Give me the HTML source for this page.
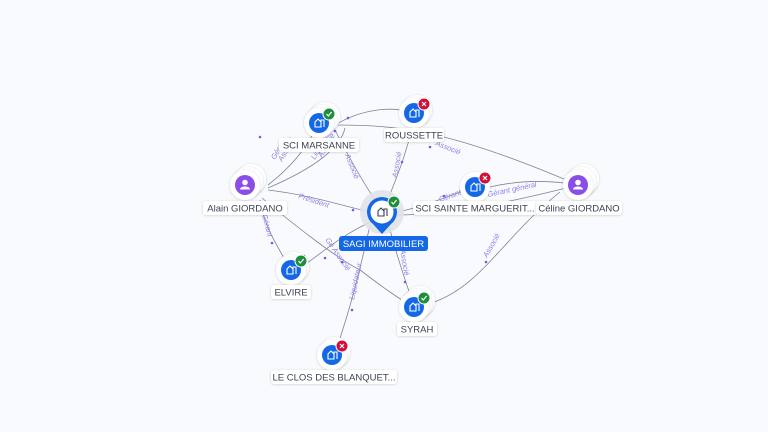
<!DOCTYPE html>
<html><head><meta charset="utf-8"><style>
html,body{margin:0;padding:0;background:#f8fafd;}
svg{display:block}
.lbl{font-family:"Liberation Sans",sans-serif;font-size:9.5px;fill:#3b4256;}
.el{font-family:"Liberation Sans",sans-serif;font-size:7.5px;fill:#8a84e6;font-style:italic}
.ln{fill:none;stroke:#7d8499;stroke-width:0.8}
</style></head><body>
<svg width="768" height="432" viewBox="0 0 768 432" xmlns="http://www.w3.org/2000/svg">
<defs>
<filter id="sh" x="-50%" y="-50%" width="200%" height="200%"><feDropShadow dx="0" dy="0.5" stdDeviation="1.2" flood-color="#000" flood-opacity="0.18"/></filter>
<g id="bld"><path d="M-4,4 V-1 L-1,-4 L2,-1 V4 Z M2,4 V-3 H5 V4" fill="none" stroke="#fff" stroke-width="1.1"/></g>
<g id="ok"><circle r="6" fill="#1e8e3e" stroke="#fff" stroke-width="1"/><path d="M-2.5,0 L-0.7,2 L2.6,-2" stroke="#fff" stroke-width="1.2" fill="none"/></g>
<g id="ko"><circle r="6" fill="#d0103a" stroke="#fff" stroke-width="1"/><path d="M-2,-2 L2,2 M2,-2 L-2,2" stroke="#fff" stroke-width="1.2"/></g>
</defs>

<!-- edges -->
<path class="ln" d="M268,185 C300,160 310,140 319,123"/>
<path class="ln" d="M268,188 C310,170 340,150 345,128"/>
<path class="ln" d="M268,190 C310,195 340,205 370,212"/>
<path class="ln" d="M260,200 C265,230 280,250 291,270"/>
<path class="ln" d="M262,198 C300,230 340,260 360,270 C380,285 400,300 414,307"/>
<path class="ln" d="M334,125 C400,125 450,130 578,185"/>
<path class="ln" d="M335,125 C360,110 390,105 414,113"/>
<path class="ln" d="M335,130 C350,160 365,185 378,205"/>
<path class="ln" d="M414,120 C405,160 395,180 388,200"/>
<path class="ln" d="M398,212 C430,205 450,195 475,187"/>
<path class="ln" d="M398,215 C450,215 520,200 578,185"/>
<path class="ln" d="M490,187 C520,180 550,180 578,185"/>
<path class="ln" d="M375,220 C340,235 320,255 300,268"/>
<path class="ln" d="M388,222 C395,250 405,280 412,300"/>
<path class="ln" d="M370,225 C360,270 350,310 336,350"/>
<path class="ln" d="M425,305 C480,290 500,240 560,192"/>

<!-- edge labels -->
<text class="el" transform="translate(275,160) rotate(-60)">Gérant</text>
<text class="el" transform="translate(282,162) rotate(-60)">Associé</text>
<text class="el" transform="translate(315,160) rotate(-60)">Liquidateur</text>
<text class="el" transform="translate(322,158) rotate(-60)">Associé</text>
<text class="el" transform="translate(298,198) rotate(18)">Président</text>
<text class="el" transform="translate(262,215) rotate(75)">Gérant</text>
<text class="el" transform="translate(325,240) rotate(55)">Gé Associé</text>
<text class="el" transform="translate(345,155) rotate(68)">Associé</text>
<text class="el" transform="translate(397,178) rotate(-80)">Associé</text>
<text class="el" transform="translate(435,145) rotate(22)">Associé</text>
<text class="el" transform="translate(440,202) rotate(-20)">Gérant</text>
<text class="el" transform="translate(488,197) rotate(-12)">Gérant général</text>
<text class="el" transform="translate(487,258) rotate(-60)">Associé</text>
<text class="el" transform="translate(400,250) rotate(80)">Associé</text>
<text class="el" transform="translate(354,300) rotate(-78)">Liquidateur</text>

<!-- arrowheads -->
<g fill="#6b5fe0">
<circle cx="335" cy="131" r="1.3"/><circle cx="348" cy="118" r="1.3"/><circle cx="353" cy="210" r="1.3"/><circle cx="272" cy="243" r="1.3"/>
<circle cx="325" cy="258" r="1.3"/><circle cx="342" cy="262" r="1.3"/><circle cx="402" cy="162" r="1.3"/><circle cx="430" cy="147" r="1.3"/>
<circle cx="444" cy="196" r="1.3"/><circle cx="486" cy="262" r="1.3"/><circle cx="405" cy="282" r="1.3"/><circle cx="352" cy="310" r="1.3"/>
<circle cx="260" cy="137" r="1.3"/><circle cx="304" cy="256" r="1.3"/>
</g>

<!-- company nodes -->
<g>
<!-- SCI MARSANNE -->
<g transform="translate(319,123)"><circle cx="6" cy="-6" r="15" fill="#fff" filter="url(#sh)"/><circle cx="3" cy="-3" r="15" fill="#fff" filter="url(#sh)"/><circle r="15" fill="#fff" filter="url(#sh)"/><circle r="10" fill="#1468e6"/><use href="#bld"/><use href="#ok" x="10" y="-9"/></g>
<!-- ROUSSETTE -->
<g transform="translate(414,113)"><circle cx="3" cy="-3" r="15" fill="#fff" filter="url(#sh)"/><circle r="15" fill="#fff" filter="url(#sh)"/><circle r="10" fill="#1468e6"/><use href="#bld"/><use href="#ko" x="10" y="-9"/></g>
<!-- SCI SAINTE -->
<g transform="translate(475,187)"><circle r="15" fill="#fff" filter="url(#sh)"/><circle r="10" fill="#1468e6"/><use href="#bld"/><use href="#ko" x="10" y="-9"/></g>
<!-- ELVIRE -->
<g transform="translate(291,270)"><circle cx="3" cy="-3" r="15" fill="#fff" filter="url(#sh)"/><circle r="15" fill="#fff" filter="url(#sh)"/><circle r="10" fill="#1468e6"/><use href="#bld"/><use href="#ok" x="10" y="-9"/></g>
<!-- SYRAH -->
<g transform="translate(414,307)"><circle cx="6" cy="-6" r="15" fill="#fff" filter="url(#sh)"/><circle cx="3" cy="-3" r="15" fill="#fff" filter="url(#sh)"/><circle r="15" fill="#fff" filter="url(#sh)"/><circle r="10" fill="#1468e6"/><use href="#bld"/><use href="#ok" x="10" y="-9"/></g>
<!-- LE CLOS -->
<g transform="translate(332,355)"><circle cx="3" cy="-3" r="15" fill="#fff" filter="url(#sh)"/><circle r="15" fill="#fff" filter="url(#sh)"/><circle r="10" fill="#1468e6"/><use href="#bld"/><use href="#ko" x="10" y="-9"/></g>
<!-- Alain -->
<g transform="translate(245,185)"><circle cx="6" cy="-6" r="15" fill="#fff" filter="url(#sh)"/><circle cx="3" cy="-3" r="15" fill="#fff" filter="url(#sh)"/><circle r="15" fill="#fff" filter="url(#sh)"/><circle r="10" fill="#8a4de8"/><circle cy="-2.5" r="2.8" fill="#fff"/><path d="M-5,4.5 C-5,0.5 5,0.5 5,4.5 Z" fill="#fff"/></g>
<!-- Celine -->
<g transform="translate(578,185)"><circle cx="6" cy="-6" r="15" fill="#fff" filter="url(#sh)"/><circle cx="3" cy="-3" r="15" fill="#fff" filter="url(#sh)"/><circle r="15" fill="#fff" filter="url(#sh)"/><circle r="10" fill="#8a4de8"/><circle cy="-2.5" r="2.8" fill="#fff"/><path d="M-5,4.5 C-5,0.5 5,0.5 5,4.5 Z" fill="#fff"/></g>
<!-- SAGI main -->
<g transform="translate(382,212)"><circle r="22" fill="#dfe2e8" opacity="0.9"/><path d="M0,22 L-9,12 A15,15 0 1 1 9,12 Z" fill="#1468e6"/><circle r="11.5" fill="#fff"/><path d="M-4,4 V-1 L-1,-4 L2,-1 V4 Z M2,4 V-3 H5 V4" fill="none" stroke="#3b4256" stroke-width="1.1"/><use href="#ok" x="12" y="-10"/></g>
</g>

<!-- labels -->
<g>
<rect x="279" y="138" width="80" height="14" rx="3" fill="#fff" filter="url(#sh)"/><text class="lbl" x="319" y="148.5" text-anchor="middle">SCI MARSANNE</text>
<rect x="384" y="128" width="60" height="14" rx="3" fill="#fff" filter="url(#sh)"/><text class="lbl" x="414" y="138.5" text-anchor="middle">ROUSSETTE</text>
<rect x="203" y="201" width="84" height="14" rx="3" fill="#fff" filter="url(#sh)"/><text class="lbl" x="245" y="211.5" text-anchor="middle">Alain GIORDANO</text>
<rect x="413" y="201" width="124" height="14" rx="3" fill="#fff" filter="url(#sh)"/><text class="lbl" x="475" y="211.5" text-anchor="middle">SCI SAINTE MARGUERIT...</text>
<rect x="536" y="201" width="86" height="14" rx="3" fill="#fff" filter="url(#sh)"/><text class="lbl" x="579" y="211.5" text-anchor="middle">Céline GIORDANO</text>
<rect x="339" y="236" width="89" height="15" rx="3" fill="#1468e6"/><text class="lbl" x="383.5" y="247" text-anchor="middle" style="fill:#fff">SAGI IMMOBILIER</text>
<rect x="271" y="285" width="40" height="14" rx="3" fill="#fff" filter="url(#sh)"/><text class="lbl" x="291" y="295.5" text-anchor="middle">ELVIRE</text>
<rect x="397" y="322" width="40" height="14" rx="3" fill="#fff" filter="url(#sh)"/><text class="lbl" x="417" y="332.5" text-anchor="middle">SYRAH</text>
<rect x="271" y="370" width="126" height="14" rx="3" fill="#fff" filter="url(#sh)"/><text class="lbl" x="334" y="380.5" text-anchor="middle">LE CLOS DES BLANQUET...</text>
</g>
</svg>
</body></html>
